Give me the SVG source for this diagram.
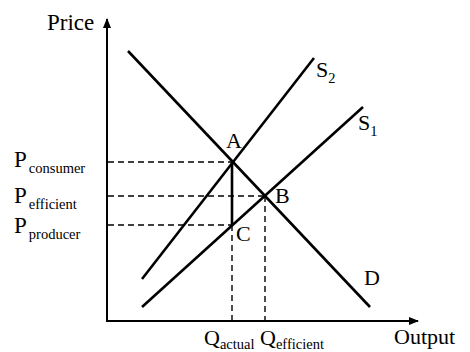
<svg xmlns="http://www.w3.org/2000/svg" width="470" height="352" viewBox="0 0 470 352">
<style>
.t{font-family:"Liberation Serif","Times New Roman",serif;fill:#000}
.l{font-size:22px}
.s{font-size:14.5px}
.c{stroke:#000;stroke-width:2.6;fill:none;stroke-linecap:butt}
.ax{stroke:#000;stroke-width:2;fill:none}
.d{stroke:#000;stroke-width:1.4;fill:none;stroke-dasharray:6 4}
</style>
<defs>
<marker id="arr" markerWidth="10" markerHeight="10" refX="9" refY="5" orient="auto" markerUnits="userSpaceOnUse">
<path d="M0,1 L10,5 L0,9 Z" fill="#000"/>
</marker>
</defs>
<rect width="470" height="352" fill="#fff"/>
<g id="axes">
<line class="ax" x1="107" y1="322" x2="107" y2="19" marker-end="url(#arr)"/>
<line class="ax" x1="106" y1="321" x2="418" y2="321" marker-end="url(#arr)"/>
</g>
<g id="connectors">
<line class="d" x1="108" y1="162" x2="232" y2="162"/>
<line class="d" x1="108" y1="196" x2="265" y2="196"/>
<line class="d" x1="108" y1="225" x2="232" y2="225"/>
<line class="d" x1="232" y1="225" x2="232" y2="320"/>
<line class="d" x1="265" y1="196" x2="265" y2="320"/>
<line class="c" x1="232" y1="162" x2="232" y2="225"/>
</g>
<g id="D"><line class="c" x1="128" y1="51" x2="370" y2="307"/><text class="t l" x="364" y="285">D</text></g>
<g id="S2"><line class="c" x1="142" y1="279" x2="314" y2="58"/><text class="t l" x="316" y="77">S<tspan class="s" dy="6">2</tspan></text></g>
<g id="S1"><line class="c" x1="142" y1="307" x2="363" y2="107"/><text class="t l" x="358" y="130">S<tspan class="s" dy="6">1</tspan></text></g>
<g id="A"><text class="t l" x="226" y="148">A</text></g>
<g id="B"><text class="t l" x="275" y="203">B</text></g>
<g id="C"><text class="t l" x="236" y="241">C</text></g>
<g id="price"><text class="t" style="font-size:23px" x="47" y="30">Price</text></g>
<g id="output"><text class="t l" x="394" y="344">Output</text></g>
<g id="pcons"><text class="t" style="font-size:23px" x="14" y="167">P<tspan class="s" dx="2" dy="6">consumer</tspan></text></g>
<g id="peff"><text class="t" style="font-size:23px" x="14" y="203">P<tspan class="s" dx="2" dy="6">efficient</tspan></text></g>
<g id="pprod"><text class="t" style="font-size:23px" x="14" y="233">P<tspan class="s" dx="2" dy="6">producer</tspan></text></g>
<g id="qact"><text class="t l" x="204" y="345">Q<tspan class="s" dy="4">actual</tspan></text></g>
<g id="qeff"><text class="t l" x="260" y="345">Q<tspan class="s" dy="4">efficient</tspan></text></g>
</svg>
